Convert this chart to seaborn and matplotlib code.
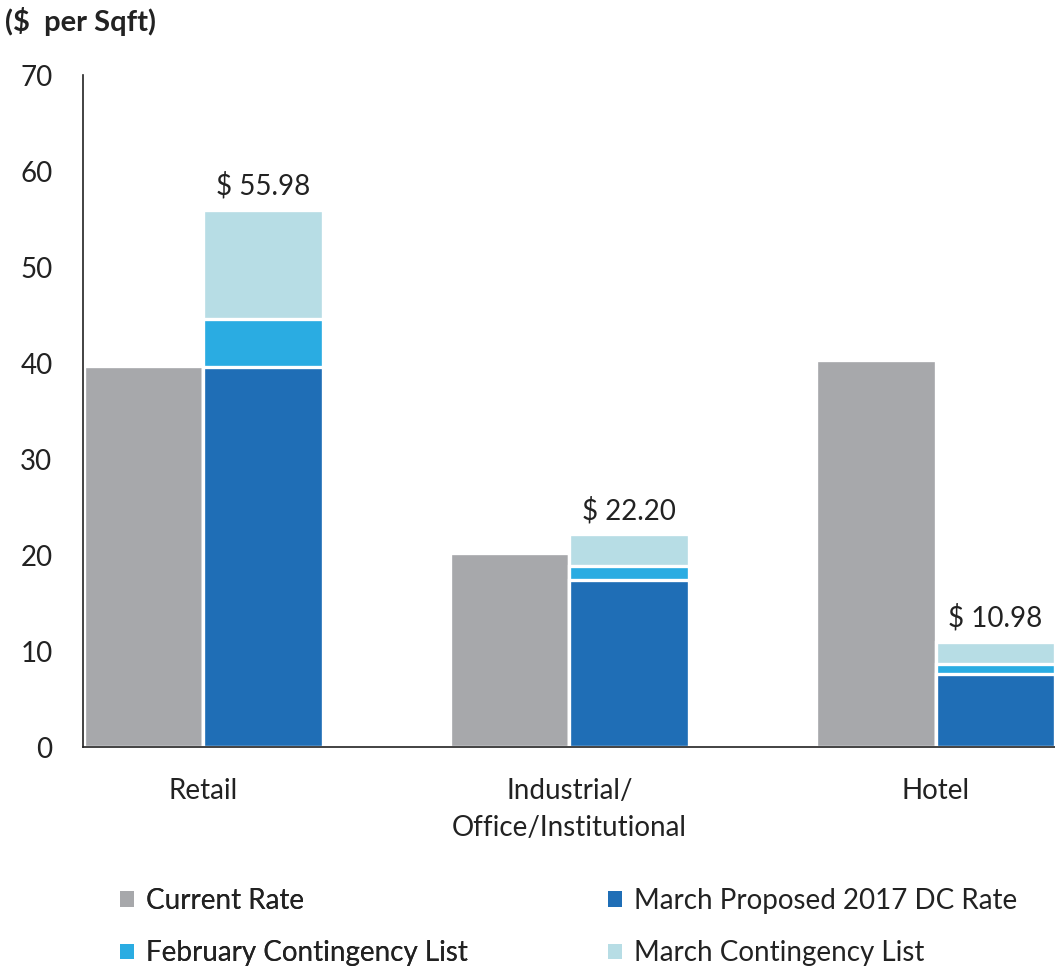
import matplotlib
matplotlib.use("Agg")
import matplotlib.pyplot as plt
from matplotlib.patches import Patch
import seaborn as sns
import pandas as pd

categories = ["Retail", "Industrial/\nOffice/Institutional", "Hotel"]
current_rate = [39.7, 20.2, 40.3]
march_proposed = [39.6, 17.4, 7.6]
feb_contingency = [5.0, 1.5, 1.0]
march_contingency = [11.38, 3.3, 2.38]
total_labels = ["$ 55.98", "$ 22.20", "$ 10.98"]
series_names = ["Current Rate", "March Proposed 2017 DC Rate",
                "February Contingency List", "March Contingency List"]
colors = ["#A7A8AB", "#1F6EB6", "#2AACE2", "#B7DDE5"]

sns.set_theme(style="white")
plt.rcParams["font.family"] = ["Lato", "DejaVu Sans"]

fig = plt.figure(figsize=(10.55, 9.71), dpi=100)
ax = fig.add_axes([83 / 1055, 1 - 747 / 971, 1 - 83 / 1055, (747 - 75) / 971])

# cumulative layers for stacked proposed column
lvl1 = march_proposed
lvl2 = [a + b for a, b in zip(march_proposed, feb_contingency)]
lvl3 = [a + b + c for a, b, c in zip(march_proposed, feb_contingency, march_contingency)]

hue_order = ["Current", "Proposed"]
layers = [
    (pd.DataFrame({"cat": categories * 2, "grp": ["Current"] * 3 + ["Proposed"] * 3,
                   "val": current_rate + lvl3}), {"Current": colors[0], "Proposed": colors[3]}),
    (pd.DataFrame({"cat": categories, "grp": ["Proposed"] * 3, "val": lvl2}),
     {"Current": colors[0], "Proposed": colors[2]}),
    (pd.DataFrame({"cat": categories, "grp": ["Proposed"] * 3, "val": lvl1}),
     {"Current": colors[0], "Proposed": colors[1]}),
]
for df, pal in layers:
    sns.barplot(data=df, x="cat", y="val", hue="grp", hue_order=hue_order,
                order=categories, palette=pal, dodge=True, width=0.652,
                edgecolor="white", linewidth=2.4, saturation=1, ax=ax,
                legend=False, errorbar=None)

for i, (t, lab) in enumerate(zip(lvl3, total_labels)):
    ax.annotate(lab, xy=(i + 0.163, t), xytext=(0, 7), textcoords="offset points",
                ha="center", va="bottom", fontsize=20, color="#222222")

ax.set_xlim(-0.328, 2.326)
ax.set_ylim(0, 70)
ax.set_yticks(range(0, 71, 10))
ax.set_xlabel("")
ax.set_ylabel("")
ax.tick_params(axis="y", length=0, pad=22, labelsize=20, labelcolor="#222222")
ax.tick_params(axis="x", length=0, pad=22, labelsize=20, labelcolor="#222222")
for lbl in ax.get_xticklabels():
    lbl.set_linespacing(1.55)
for s in ["top", "right"]:
    ax.spines[s].set_visible(False)
for s in ["left", "bottom"]:
    ax.spines[s].set_color("#222222")
    ax.spines[s].set_linewidth(1.2)

fig.text(5 / 1055, 1 - 22 / 971, "($  per Sqft)", fontsize=21, fontweight="bold",
         ha="left", va="center", color="#222222")

h = [Patch(facecolor=c, edgecolor="none") for c in colors]
leg_kw = dict(loc="upper left", frameon=False, fontsize=20, handlelength=0.5,
              handleheight=0.5, handletextpad=0.45, labelspacing=0.95,
              labelcolor="#222222", borderaxespad=0, borderpad=0)
leg1 = fig.legend([h[0], h[2]], [series_names[0], series_names[2]],
                  bbox_to_anchor=(120 / 1055, 1 - 888 / 971), **leg_kw)
leg2 = fig.legend([h[1], h[3]], [series_names[1], series_names[3]],
                  bbox_to_anchor=(608 / 1055, 1 - 888 / 971), **leg_kw)
fig.add_artist(leg1)

fig.savefig("out.png", dpi=100)
